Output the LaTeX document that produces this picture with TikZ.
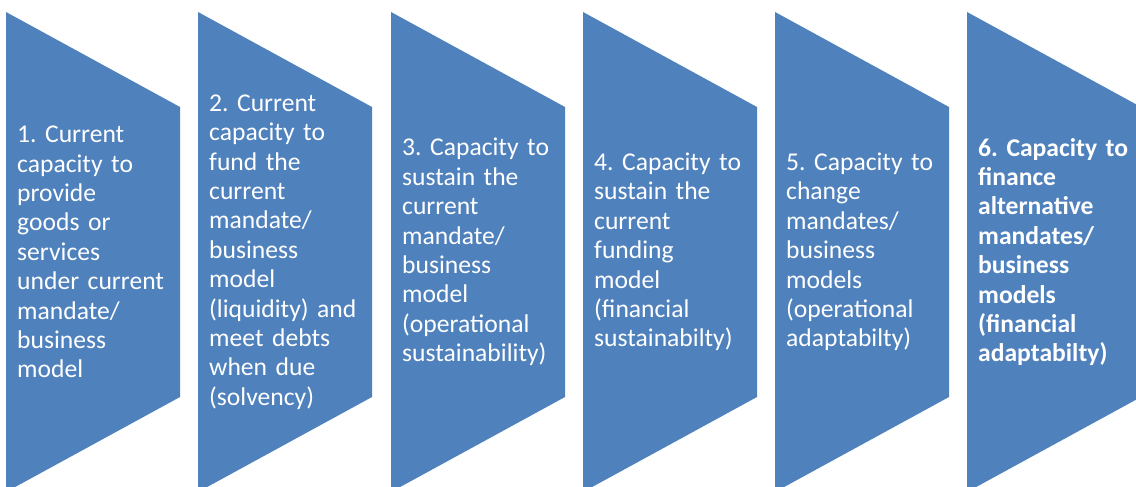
\documentclass[tikz,border=0pt]{standalone}
\usepackage{fontspec}
\setmainfont{Carlito}
\frenchspacing
\definecolor{officeblue}{HTML}{4F81BD}
\begin{document}
\begin{tikzpicture}[x=1pt,y=-1pt,
  chev/.style={fill=officeblue},
  lbl/.style={anchor=west,inner sep=0pt,text=white,align=left,text width=170pt,
    font=\fontsize{25.6pt}{29.4pt}\selectfont}]
\useasboundingbox (0,0) rectangle (1136,487);
\foreach \L [count=\i] in {6,198,391,583,775,967}{
  \fill[chev] (\L,12) -- (\L+174,107) -- (\L+174,397) -- (\L,492) -- cycle;
}
\node[lbl] (t1) at (17,252) {1. Current\\capacity to\\provide\\goods or\\services\\under current\\mandate/\\business\\model};
\node[lbl] (t2) at (209,252) {2. Current\\capacity to\\fund the\\current\\mandate/\\business\\model\\(liquidity) and\\meet debts\\when due\\(solvency)};
\node[lbl] (t3) at (402,252) {3. Capacity to\\sustain the\\current\\mandate/\\business\\model\\(operational\\sustainability)};
\node[lbl] (t4) at (594,252) {4. Capacity to\\sustain the\\current\\funding\\model\\(financial\\sustainabilty)};
\node[lbl] (t5) at (786,252) {5. Capacity to\\change\\mandates/\\business\\models\\(operational\\adaptabilty)};
\node[lbl,font=\fontsize{25.6pt}{29.4pt}\selectfont\bfseries] (t6) at (978,252) {6. Capacity to\\finance\\alternative\\mandates/\\business\\models\\(financial\\adaptabilty)};
\end{tikzpicture}
\end{document}
